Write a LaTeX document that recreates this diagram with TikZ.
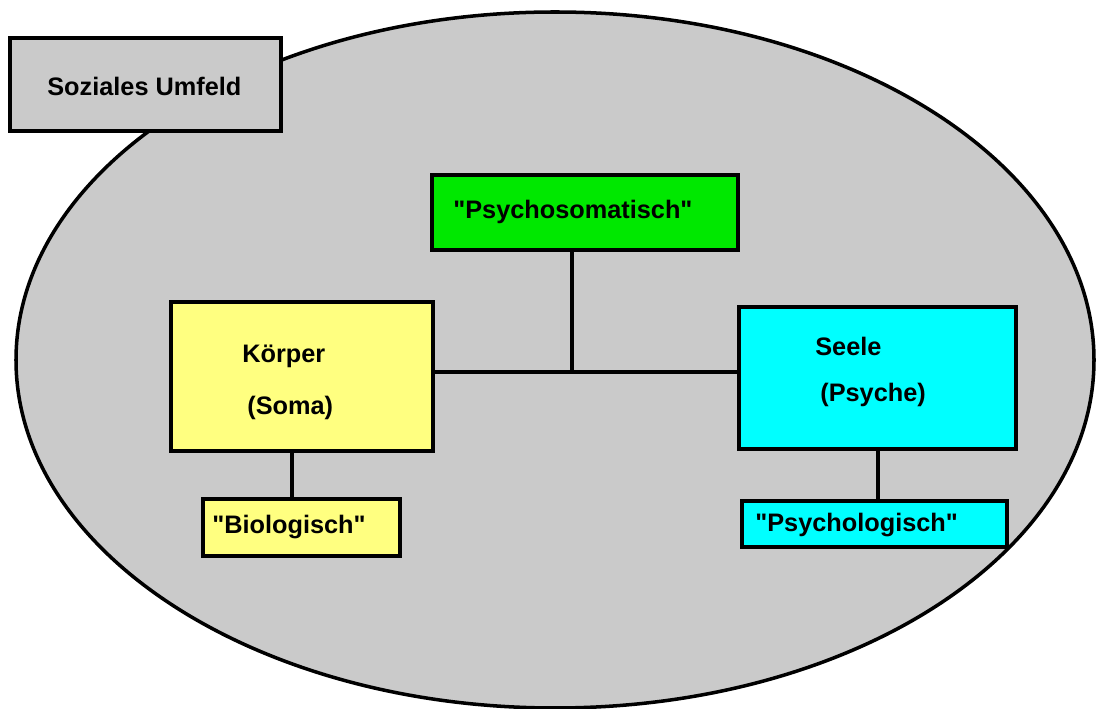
\documentclass[tikz,border=0pt]{standalone}
\usepackage{fontspec}
\setmainfont{Liberation Sans}
\newfontfamily\labelfont{Liberation Sans}[Ligatures=ResetAll]
\usepackage{xcolor}
\usetikzlibrary{positioning,calc}

\definecolor{umfeldgray}{RGB}{202,202,202}
\definecolor{somayellow}{RGB}{255,255,128}
\definecolor{psygreen}{RGB}{0,232,0}
\definecolor{psycyan}{RGB}{0,255,255}

\tikzset{
    box/.style={draw, line width=2pt, rectangle, inner sep=0pt},
    label/.style={font=\labelfont\fontsize{14.4}{16}\selectfont\bfseries, inner sep=0pt, anchor=west},
    link/.style={line width=2pt}
}

\begin{document}
\begin{tikzpicture}[x=0.02cm, y=-0.02cm]
    \useasboundingbox (0,0) rectangle (1096,709);

    % Environment
    \fill[umfeldgray, draw=black, line width=2pt] (555,360) ellipse (539 and 348);

    % Boxes
    \node[box, fill=umfeldgray, minimum width=271*0.02cm, minimum height=93*0.02cm] (umfeld) at (145.5,84.5) {};
    \node[box, fill=psygreen, minimum width=306*0.02cm, minimum height=75*0.02cm] (psychosom) at (585,212.5) {};
    \node[box, fill=somayellow, minimum width=262*0.02cm, minimum height=149*0.02cm] (koerper) at (302,376.5) {};
    \node[box, fill=psycyan, minimum width=277*0.02cm, minimum height=142*0.02cm] (seele) at (877.5,378) {};
    \node[box, fill=somayellow, minimum width=197*0.02cm, minimum height=57*0.02cm] (bio) at (301.5,527.5) {};
    \node[box, fill=psycyan, minimum width=265*0.02cm, minimum height=46*0.02cm] (psychol) at (874.5,524) {};

    % Texts
    \node[label] (umfeldtxt) at (47,86) {Soziales Umfeld};
    \node[label] (psychosomtxt) at (453,212) {"Psychosomatisch"};
    \node[label] (koerpertxt) at (242,356) {Körper};
    \node[label] (somatxt) at (247,408) {(Soma)};
    \node[label] (seeletxt) at (815,346) {Seele};
    \node[label] (psychetxt) at (820,395) {(Psyche)};
    \node[label] (biotxt) at (212,527) {"Biologisch"};
    \node[label] (psycholtxt) at (755,525) {"Psychologisch"};

    % Connectors
    \coordinate (hub) at (572,372);
    \coordinate (bioline) at (292,0);
    \coordinate (seeleline) at (878,0);
    \draw[link] (koerper.east |- hub) -- (seele.west |- hub);
    \draw[link] (psychosom.south -| hub) -- (hub);
    \draw[link] (koerper.south -| bioline) -- (bio.north -| bioline);
    \draw[link] (seele.south -| seeleline) -- (psychol.north -| seeleline);
\end{tikzpicture}
\end{document}
